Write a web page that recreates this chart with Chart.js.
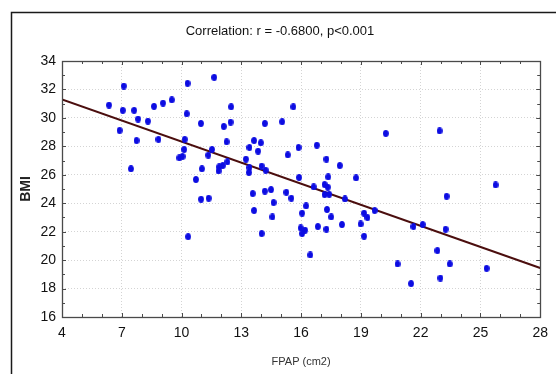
<!DOCTYPE html>
<html>
<head>
<meta charset="utf-8">
<script src="https://cdn.jsdelivr.net/npm/chart.js@4/dist/chart.umd.min.js"></script>
<style>
  html, body { margin: 0; padding: 0; background: #fff; }
  #wrap { width: 556px; height: 374px; }
</style>
</head>
<body>
<div id="wrap"><canvas id="chart"></canvas></div>
<script>
// data
const fpap = [
  7.10, 6.36, 7.05, 7.62, 7.82, 8.62, 9.07, 9.51, 10.30, 11.64,
  8.31, 6.89, 7.74, 8.84, 10.26, 10.97, 10.16, 10.13, 9.89, 10.05,
  11.53, 11.34, 7.46, 11.02, 10.72, 10.98, 11.36, 10.33, 12.49, 12.46,
  12.12, 14.18, 15.05, 15.61, 12.26, 13.64, 13.41, 13.98, 13.84, 13.23,
  12.30, 12.07, 11.89, 11.86, 13.41, 13.38, 14.02, 14.22, 15.33, 15.87,
  16.79, 17.27, 17.94, 15.90, 17.36, 16.63, 17.18, 17.34, 13.57, 14.18,
  14.49, 14.62, 13.64, 14.56, 14.02, 15.26, 15.51, 16.25, 16.05, 15.98,
  16.20, 16.05, 16.46, 17.18, 17.41, 17.30, 17.51, 16.84, 17.27, 18.05,
  18.20, 20.25, 22.95, 18.76, 25.76, 19.69, 19.16, 19.33, 18.99, 19.16,
  23.30, 21.64, 22.10, 23.25, 22.84, 20.84, 23.46, 21.52, 22.99, 25.31
];
const bmi = [
  32.24, 30.90, 30.53, 30.53, 29.92, 30.81, 31.04, 31.27, 32.43, 32.85,
  29.77, 29.12, 28.41, 28.49, 30.29, 29.61, 28.49, 27.78, 27.19, 27.29,
  27.78, 27.38, 26.42, 26.42, 25.67, 24.28, 24.35, 21.65, 30.78, 29.70,
  29.40, 29.61, 29.73, 30.78, 28.32, 28.41, 27.92, 28.25, 27.66, 27.10,
  26.91, 26.65, 26.56, 26.27, 26.51, 26.16, 26.61, 26.32, 27.40, 27.92,
  28.08, 27.10, 26.65, 25.81, 25.85, 25.15, 25.32, 25.13, 24.68, 24.85,
  24.96, 24.05, 23.49, 23.04, 21.87, 24.77, 24.35, 23.81, 23.30, 22.26,
  22.10, 21.87, 20.36, 24.61, 24.63, 23.56, 23.04, 22.36, 22.17, 22.50,
  24.30, 28.91, 29.09, 25.78, 25.29, 23.49, 23.30, 22.99, 22.54, 21.68,
  24.49, 22.36, 22.50, 22.17, 20.67, 19.73, 19.73, 18.35, 18.74, 19.42
];
// fitted line end points
const fitX = [4, 28];
const fitY = [31.30, 19.45];

const xTicks = [4, 7, 10, 13, 16, 19, 22, 25, 28];
const yTicks = [16, 18, 20, 22, 24, 26, 28, 30, 32, 34];

const titleText = "Correlation: r = -0.6800, p<0.001";
const xTitle = "FPAP (cm2)";
const yTitle = "BMI";

const FONT = "'Liberation Sans', Arial, sans-serif";

// small upright ellipse as the marker
const dot = document.createElement("canvas");
dot.width = 6;
dot.height = 7;
(function () {
  const c = dot.getContext("2d");
  c.fillStyle = "#0c0ce2";
  c.beginPath();
  c.ellipse(3, 3.5, 2.9, 3.5, 0, 0, Math.PI * 2);
  c.fill();
})();

// plot frame, inward tick marks and the outer window border
const framePlugin = {
  id: "frame",
  afterDatasetsDraw(chart) {
    const { ctx, chartArea: a, scales } = chart;
    const xs = scales.x, ys = scales.y;
    ctx.save();
    ctx.strokeStyle = "#4a4a4a";
    ctx.lineWidth = 1;
    ctx.beginPath();
    for (let v = xs.min; v <= xs.max; v++) {
      const px = Math.round(xs.getPixelForValue(v)) + 0.5;
      const len = xTicks.includes(v) ? 4 : 3;
      ctx.moveTo(px, a.bottom);
      ctx.lineTo(px, a.bottom - len);
      ctx.moveTo(px, a.top);
      ctx.lineTo(px, a.top + len);
    }
    for (let v = ys.min; v <= ys.max; v++) {
      const py = Math.round(ys.getPixelForValue(v)) + 0.5;
      const len = yTicks.includes(v) ? 4 : 3;
      ctx.moveTo(a.left, py);
      ctx.lineTo(a.left + len, py);
      ctx.moveTo(a.right, py);
      ctx.lineTo(a.right - len, py);
    }
    ctx.stroke();
    ctx.lineWidth = 1.3;
    ctx.strokeRect(Math.round(a.left) + 0.5, Math.round(a.top) + 0.5,
      Math.round(a.right - a.left), Math.round(a.bottom - a.top));
    ctx.restore();
  },
  afterDraw(chart) {
    const ctx = chart.ctx;
    ctx.save();
    ctx.strokeStyle = "#1a1a1a";
    ctx.lineWidth = 1.5;
    ctx.beginPath();
    ctx.moveTo(556, 12.5);
    ctx.lineTo(11.5, 12.5);
    ctx.lineTo(11.5, 374);
    ctx.stroke();
    ctx.restore();
  }
};

const ctx = document.getElementById("chart").getContext("2d");
new Chart(ctx, {
  type: "scatter",
  data: {
    datasets: [
      {
        label: "BMI vs FPAP",
        data: fpap.map((x, i) => ({ x: x, y: bmi[i] })),
        pointStyle: dot,
        pointRadius: 3,
        pointHoverRadius: 3
      },
      {
        type: "line",
        label: "fit",
        data: fitX.map((x, i) => ({ x: x, y: fitY[i] })),
        borderColor: "#4b0e0e",
        borderWidth: 2,
        pointRadius: 0,
        fill: false
      }
    ]
  },
  options: {
    responsive: true,
    maintainAspectRatio: false,
    animation: false,
    events: [],
    layout: {
      autoPadding: false,
      padding: { left: 10, right: 6, top: 0, bottom: 0 }
    },
    plugins: {
      legend: { display: false },
      tooltip: { enabled: false },
      title: {
        display: true,
        text: titleText,
        color: "#111",
        font: { family: FONT, size: 13, weight: "normal" },
        padding: { top: 24, bottom: 21.4 }
      }
    },
    scales: {
      x: {
        type: "linear",
        min: 4,
        max: 28,
        afterBuildTicks: (s) => { s.ticks = xTicks.map((v) => ({ value: v })); },
        afterFit: (s) => { s.height = 57; },
        ticks: {
          color: "#111",
          padding: 8,
          maxRotation: 0,
          font: { family: FONT, size: 14 }
        },
        grid: { color: "#d4d4d4", drawTicks: false, lineWidth: 1 },
        border: { display: false, dash: [1, 2] },
        title: {
          display: true,
          text: xTitle,
          color: "#333",
          font: { family: FONT, size: 11 },
          padding: { top: 5, bottom: 5 }
        }
      },
      y: {
        type: "linear",
        min: 16,
        max: 34,
        afterBuildTicks: (s) => { s.ticks = yTicks.map((v) => ({ value: v })); },
        afterFit: (s) => { s.width = 52; },
        ticks: {
          color: "#111",
          padding: 6,
          font: { family: FONT, size: 14 }
        },
        grid: { color: "#d4d4d4", drawTicks: false, lineWidth: 1 },
        border: { display: false, dash: [1, 2] },
        title: {
          display: true,
          text: yTitle,
          color: "#222",
          font: { family: FONT, size: 14, weight: "bold" },
          padding: { top: 8, bottom: 0 }
        }
      }
    }
  },
  plugins: [framePlugin]
});
</script>
</body>
</html>
